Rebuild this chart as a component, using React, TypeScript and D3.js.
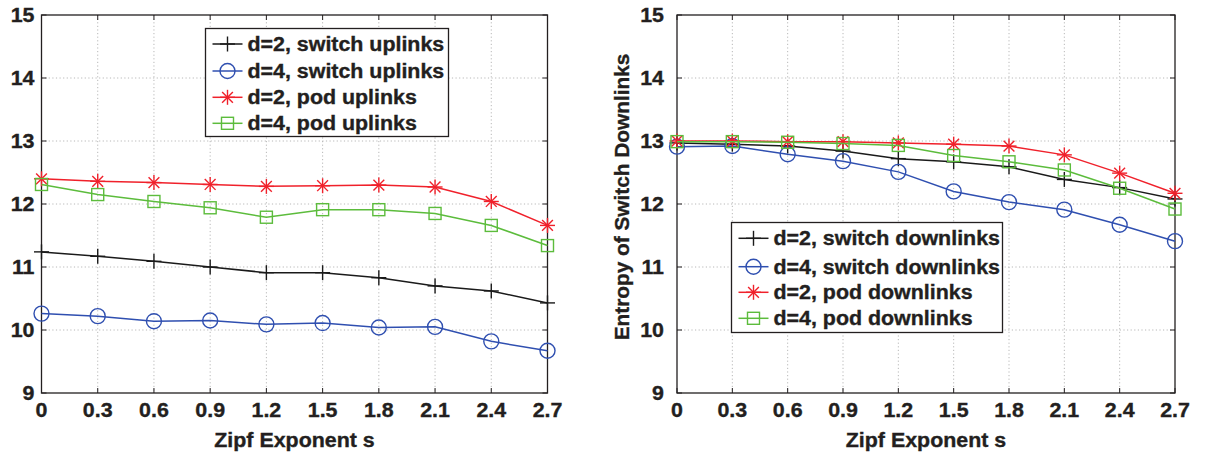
import React from "react";
import * as d3 from "d3";

// Zipf exponent values on the x axis
const zipfS = [0, 0.3, 0.6, 0.9, 1.2, 1.5, 1.8, 2.1, 2.4, 2.7];
const xTickLabels = ["0", "0.3", "0.6", "0.9", "1.2", "1.5", "1.8", "2.1", "2.4", "2.7"];
const yTicks = [9, 10, 11, 12, 13, 14, 15];

// Entropy of uplinks
const upSwitchD2 = [11.24, 11.17, 11.09, 11.0, 10.91, 10.91, 10.83, 10.7, 10.62, 10.43];
const upSwitchD4 = [10.26, 10.22, 10.14, 10.15, 10.09, 10.11, 10.04, 10.05, 9.82, 9.67];
const upPodD2 = [12.4, 12.36, 12.34, 12.31, 12.28, 12.29, 12.3, 12.27, 12.04, 11.66];
const upPodD4 = [12.31, 12.15, 12.04, 11.94, 11.79, 11.91, 11.91, 11.85, 11.66, 11.34];

// Entropy of switch downlinks
const downSwitchD2 = [12.97, 12.95, 12.92, 12.84, 12.72, 12.67, 12.59, 12.39, 12.26, 12.08];
const downSwitchD4 = [12.91, 12.92, 12.79, 12.68, 12.51, 12.2, 12.03, 11.91, 11.67, 11.41];
const downPodD2 = [13.0, 13.0, 12.99, 12.99, 12.97, 12.95, 12.92, 12.78, 12.49, 12.17];
const downPodD4 = [12.99, 12.99, 12.98, 12.96, 12.93, 12.77, 12.67, 12.54, 12.25, 11.92];

const upLabels = ["d=2, switch uplinks", "d=4, switch uplinks", "d=2, pod uplinks", "d=4, pod uplinks"];
const downLabels = ["d=2, switch downlinks", "d=4, switch downlinks", "d=2, pod downlinks", "d=4, pod downlinks"];

const seriesColors = ["#1a1a1a", "#2f4fb0", "#f0212b", "#5cbc3c"];
const markerKinds = ["plus", "circle", "star", "square"];

const FONT = "'Liberation Sans', Arial, Helvetica, sans-serif";
const TEXT = "#231f20";
const FS = 20;
const STRETCH = 1.07;

type TProps = { x: number; y: number; anchor?: "start" | "middle" | "end"; children: React.ReactNode };

// Bold, slightly widened label text
function T({ x, y, anchor = "start", children }: TProps) {
  return (
    <text
      transform={`translate(${x},${y}) scale(${STRETCH},1)`}
      textAnchor={anchor}
      fontFamily={FONT}
      fontWeight="bold"
      fontSize={FS}
      fill={TEXT}
      stroke={TEXT}
      strokeWidth={0.35}
    >
      {children}
    </text>
  );
}

type Marker = { kind: string; x: number; y: number; color: string };

function MarkerShape({ kind, x, y, color }: Marker) {
  const sw = 1.4;
  if (kind === "plus") {
    const h = 7.5;
    return (
      <g stroke={color} strokeWidth={sw}>
        <line x1={x - h} x2={x + h} y1={y} y2={y} />
        <line x1={x} x2={x} y1={y - h} y2={y + h} />
      </g>
    );
  }
  if (kind === "circle") {
    return <ellipse cx={x} cy={y} rx={7.5} ry={7.5} fill="none" stroke={color} strokeWidth={sw} />;
  }
  if (kind === "star") {
    const h = 7.5;
    const d = h * 0.72;
    return (
      <g stroke={color} strokeWidth={sw}>
        <line x1={x - h} x2={x + h} y1={y} y2={y} />
        <line x1={x} x2={x} y1={y - h} y2={y + h} />
        <line x1={x - d} x2={x + d} y1={y - d} y2={y + d} />
        <line x1={x - d} x2={x + d} y1={y + d} y2={y - d} />
      </g>
    );
  }
  const s = 6;
  return <rect x={x - s} y={y - s} width={2 * s} height={2 * s} fill="none" stroke={color} strokeWidth={sw} />;
}

type PanelProps = {
  left: number;
  right: number;
  top: number;
  bottom: number;
  yLabelGap: number;
  series: number[][];
  labels: string[];
  legend: { x: number; y: number; w: number; h: number; rows: number[] };
  yLabel?: string;
};

function Panel({ left, right, top, bottom, yLabelGap, series, labels, legend, yLabel }: PanelProps) {
  const x = d3.scaleLinear().domain([0, 2.7]).range([left, right]);
  const y = d3.scaleLinear().domain([9, 15]).range([bottom, top]);
  const line = d3
    .line<number>()
    .x((_, i) => x(zipfS[i]))
    .y((v) => y(v));
  const tickLen = 5;

  return (
    <g>
      {/* grid */}
      <g stroke="#b8b8b8" strokeWidth={1} strokeDasharray="1.2,2.4">
        {zipfS.slice(1, -1).map((s) => (
          <line key={"gx" + s} x1={x(s)} x2={x(s)} y1={top} y2={bottom} />
        ))}
        {yTicks.slice(1, -1).map((t) => (
          <line key={"gy" + t} x1={left} x2={right} y1={y(t)} y2={y(t)} />
        ))}
      </g>
      {/* ticks on all four sides */}
      <g stroke={TEXT} strokeWidth={1}>
        {zipfS.map((s) => (
          <g key={"tx" + s}>
            <line x1={x(s)} x2={x(s)} y1={bottom} y2={bottom - tickLen} />
            <line x1={x(s)} x2={x(s)} y1={top} y2={top + tickLen} />
          </g>
        ))}
        {yTicks.map((t) => (
          <g key={"ty" + t}>
            <line x1={left} x2={left + tickLen} y1={y(t)} y2={y(t)} />
            <line x1={right} x2={right - tickLen} y1={y(t)} y2={y(t)} />
          </g>
        ))}
      </g>
      <rect x={left} y={top} width={right - left} height={bottom - top} fill="none" stroke={TEXT} strokeWidth={1.3} />
      {/* tick labels */}
      {zipfS.map((s, i) => (
        <T key={"lx" + s} x={x(s)} y={417} anchor="middle">
          {xTickLabels[i]}
        </T>
      ))}
      {yTicks.map((t) => (
        <T key={"ly" + t} x={left - yLabelGap} y={y(t) + 7} anchor="end">
          {t}
        </T>
      ))}
      <T x={(left + right) / 2} y={447} anchor="middle">
        Zipf Exponent s
      </T>
      {yLabel && (
        <text
          transform={`translate(${left - 48},197) rotate(-90)`}
          textAnchor="middle"
          fontFamily={FONT}
          fontWeight="bold"
          fontSize={20.8}
          fill={TEXT}
          stroke={TEXT}
          strokeWidth={0.35}
        >
          {yLabel}
        </text>
      )}
      {/* series */}
      {series.map((vals, k) => (
        <g key={"s" + k}>
          <path d={line(vals) || ""} fill="none" stroke={seriesColors[k]} strokeWidth={1.5} />
          {vals.map((v, i) => (
            <MarkerShape key={i} kind={markerKinds[k]} x={x(zipfS[i])} y={y(v)} color={seriesColors[k]} />
          ))}
        </g>
      ))}
      {/* legend */}
      <g>
        <rect x={legend.x} y={legend.y} width={legend.w} height={legend.h} fill="#fff" stroke={TEXT} strokeWidth={1.3} />
        {labels.map((lab, k) => {
          const ry = legend.rows[k];
          const lx0 = legend.x + 7;
          const lx1 = legend.x + 37;
          return (
            <g key={"lg" + k}>
              <line x1={lx0} x2={lx1} y1={ry} y2={ry} stroke={seriesColors[k]} strokeWidth={1.5} />
              <MarkerShape kind={markerKinds[k]} x={(lx0 + lx1) / 2} y={ry} color={seriesColors[k]} />
              <T x={legend.x + 42} y={ry + 7}>
                {lab}
              </T>
            </g>
          );
        })}
      </g>
    </g>
  );
}

export default function App() {
  return (
    <svg
      width={1208}
      height={458}
      viewBox="0 0 1208 458"
      style={{ position: "absolute", left: 0, top: 0, background: "#fff" }}
    >
      <rect width={1208} height={458} fill="#fff" />
      <Panel
        left={41.5}
        right={547.5}
        top={15}
        bottom={393}
        yLabelGap={7}
        series={[upSwitchD2, upSwitchD4, upPodD2, upPodD4]}
        labels={upLabels}
        legend={{ x: 205.5, y: 28.5, w: 243, h: 108, rows: [44, 71, 97.3, 123.3] }}
      />
      <Panel
        left={677}
        right={1175}
        top={15}
        bottom={393}
        yLabelGap={13}
        series={[downSwitchD2, downSwitchD4, downPodD2, downPodD4]}
        labels={downLabels}
        legend={{ x: 731.5, y: 222.5, w: 271, h: 110, rows: [238.3, 266.7, 292.3, 318.3] }}
        yLabel="Entropy of Switch Downlinks"
      />
    </svg>
  );
}
